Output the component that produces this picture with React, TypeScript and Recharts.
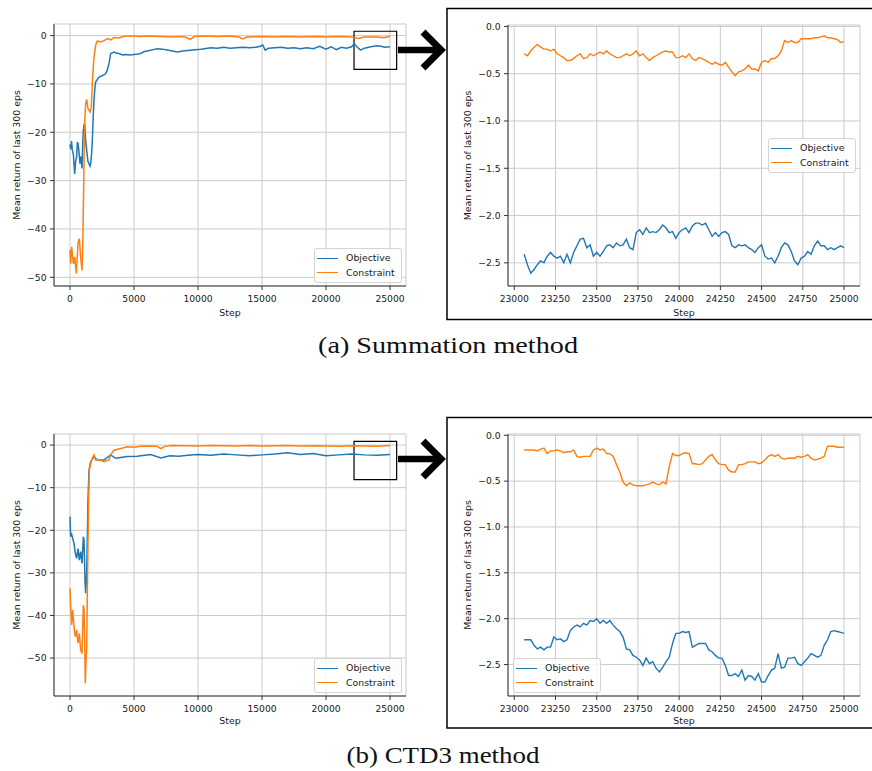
import React from 'react';
import { LineChart, Line, XAxis, YAxis, CartesianGrid, Legend, ReferenceArea } from 'recharts';

const BLUE = '#1f77b4';
const ORANGE = '#ff7f0e';

// full-run x ticks / y ticks
const fullTicksX = [0, 5000, 10000, 15000, 20000, 25000];
const fullTicksY = [-50, -40, -30, -20, -10, 0];
// zoomed panels
const zoomTicksX = [23000, 23250, 23500, 23750, 24000, 24250, 24500, 24750, 25000];
const zoomTicksY = [-2.5, -2.0, -1.5, -1.0, -0.5, 0.0];

const seriesNames = ['Objective', 'Constraint'];

// (a) Summation method, full run
const sumObjSteps = [0, 60, 120, 182, 260, 365, 440, 521, 580, 625, 700, 781, 860, 937, 1000, 1042, 1100, 1146, 1200, 1302, 1400, 1484, 1560, 1615, 1700, 1745, 1810, 1875, 1940, 2005, 2150, 2266, 2500, 2786, 2900, 3047, 3177, 3437, 3600, 3828, 4100, 4349, 4700, 5000, 5300, 5521, 5800, 6041, 6500, 6822, 7200, 7600, 8000, 8400, 8800, 9200, 9600, 10000, 10500, 11000, 11500, 12000, 12500, 13000, 13500, 14000, 14500, 14900, 15050, 15250, 15500, 16000, 16500, 17000, 17500, 18000, 18500, 19000, 19500, 20000, 20400, 20800, 21200, 21600, 22000, 22200, 22450, 22700, 23000, 23500, 24000, 24300, 24600, 25000];
const sumObjValues = [-22.5, -23.5, -21.8, -23.7, -24.5, -28.6, -26, -25, -22, -22.3, -24, -26.5, -25, -27.5, -22, -19.6, -18.5, -18.2, -21, -23.7, -26, -26.5, -27, -26.5, -24, -21.7, -17, -13.4, -11, -9.6, -9, -8.6, -8.3, -7.9, -7.2, -5.8, -3.7, -3.4, -3.6, -3.7, -4.0, -3.9, -4.0, -3.9, -3.8, -3.7, -3.3, -3.2, -2.9, -2.7, -2.8, -3.0, -3.2, -3.4, -3.2, -3.1, -3.0, -2.9, -2.7, -2.5, -2.6, -2.4, -2.6, -2.5, -2.4, -2.5, -2.4, -2.2, -1.9, -3.0, -2.6, -2.5, -2.4, -2.6, -2.5, -2.7, -2.5, -2.7, -2.2, -2.8, -2.3, -2.9, -2.4, -2.6, -2.3, -1.7, -2.4, -3.0, -2.6, -2.3, -2.1, -2.2, -2.4, -2.3];
const sumConSteps = [0, 52, 130, 260, 365, 495, 625, 729, 833, 937, 990, 1042, 1094, 1146, 1224, 1302, 1406, 1562, 1667, 1745, 1875, 2005, 2135, 2396, 2700, 2917, 3200, 3437, 3800, 4200, 4479, 5000, 5500, 6000, 7000, 8000, 8500, 9000, 9400, 9700, 10500, 11500, 12500, 13200, 13500, 13800, 15000, 16000, 17000, 18000, 19000, 20000, 21000, 22000, 22500, 23000, 24000, 24500, 25000];
const sumConValues = [-44.4, -47.2, -43.7, -47.2, -45.8, -49.2, -43, -42, -45.8, -48.6, -44.4, -36, -26.5, -18.2, -14, -13.2, -15.1, -15.8, -14.8, -9.6, -4.4, -2, -1.1, -1.3, -1.0, -0.6, -0.9, -0.4, -0.5, -0.2, -0.1, -0.1, -0.2, -0.1, -0.2, -0.3, -0.2, -0.3, -0.8, -0.2, -0.1, -0.2, -0.1, -0.3, -0.7, -0.3, -0.2, -0.3, -0.2, -0.3, -0.2, -0.3, -0.2, -0.3, -0.6, -0.3, -0.3, -0.45, -0.15];

// (b) CTD3 method, full run
const ctdObjSteps = [0, 50, 104, 208, 313, 417, 521, 625, 729, 833, 937, 1042, 1094, 1172, 1224, 1302, 1406, 1484, 1615, 1875, 2135, 2656, 3177, 3567, 4479, 5260, 6300, 7100, 7800, 8500, 9200, 10000, 11000, 12000, 13000, 14000, 15000, 16000, 17000, 18000, 19000, 20000, 21000, 22000, 23000, 24000, 25000];
const ctdObjValues = [-16.8, -21.5, -20.7, -21.9, -23.1, -25.4, -26.6, -24.3, -27, -25, -27.8, -21.5, -22.3, -31.7, -34.8, -30.1, -12.9, -5.9, -3.9, -2.7, -3.5, -3.5, -2.3, -3.1, -2.7, -2.6, -2.2, -3.0, -2.5, -2.6, -2.4, -2.2, -2.4, -2.1, -2.3, -2.5, -2.3, -2.1, -1.8, -2.2, -2.0, -2.5, -2.3, -2.1, -2.3, -2.4, -2.2];
const ctdConSteps = [0, 52, 130, 208, 313, 417, 521, 625, 729, 833, 937, 1042, 1094, 1146, 1198, 1250, 1302, 1354, 1432, 1510, 1615, 1745, 1875, 2005, 2266, 2656, 3047, 3177, 3437, 3958, 4479, 5000, 5500, 6000, 6800, 7100, 7400, 8000, 9000, 10000, 11000, 12000, 13000, 14000, 15000, 16000, 17000, 18000, 19000, 20000, 21000, 22000, 23000, 24000, 25000];
const ctdConValues = [-33.6, -38, -42.2, -38.7, -42.6, -45, -43.4, -46.5, -44.2, -48.1, -48.9, -37.6, -38.3, -45.8, -55.9, -50.5, -48.1, -34.8, -16.8, -5.9, -4.3, -3.1, -2.3, -3.5, -3.4, -3.9, -3.5, -2.3, -1.2, -0.8, -0.4, -0.5, -0.3, -0.2, -0.3, -0.85, -0.3, -0.1, -0.15, -0.2, -0.1, -0.15, -0.2, -0.1, -0.2, -0.15, -0.1, -0.2, -0.15, -0.2, -0.25, -0.15, -0.2, -0.3, -0.12];

// last ~2000 steps, shared x for both zoomed panels
const zoomSteps = [23060, 23080, 23100, 23120, 23140, 23160, 23180, 23200, 23220, 23240, 23260, 23280, 23300, 23320, 23340, 23360, 23380, 23400, 23420, 23440, 23460, 23480, 23500, 23520, 23540, 23560, 23580, 23600, 23620, 23640, 23660, 23680, 23700, 23720, 23740, 23760, 23780, 23800, 23820, 23840, 23860, 23880, 23900, 23920, 23940, 23960, 23980, 24000, 24020, 24040, 24060, 24080, 24100, 24120, 24140, 24160, 24180, 24200, 24220, 24240, 24260, 24280, 24300, 24320, 24340, 24360, 24380, 24400, 24420, 24440, 24460, 24480, 24500, 24520, 24540, 24560, 24580, 24600, 24620, 24640, 24660, 24680, 24700, 24720, 24740, 24760, 24780, 24800, 24820, 24840, 24860, 24880, 24900, 24920, 24940, 24960, 24980, 25000];
const sumZoomObj = [-2.41, -2.52, -2.61, -2.57, -2.52, -2.48, -2.50, -2.43, -2.39, -2.43, -2.45, -2.43, -2.50, -2.41, -2.50, -2.39, -2.32, -2.25, -2.24, -2.34, -2.31, -2.43, -2.39, -2.43, -2.38, -2.32, -2.31, -2.34, -2.29, -2.32, -2.31, -2.25, -2.34, -2.36, -2.18, -2.15, -2.20, -2.13, -2.18, -2.17, -2.18, -2.15, -2.10, -2.13, -2.18, -2.17, -2.24, -2.18, -2.15, -2.13, -2.18, -2.11, -2.08, -2.08, -2.10, -2.08, -2.15, -2.22, -2.18, -2.22, -2.18, -2.17, -2.20, -2.32, -2.34, -2.31, -2.32, -2.31, -2.34, -2.36, -2.39, -2.34, -2.31, -2.43, -2.46, -2.45, -2.50, -2.43, -2.34, -2.29, -2.31, -2.38, -2.48, -2.52, -2.45, -2.43, -2.38, -2.41, -2.32, -2.27, -2.32, -2.32, -2.36, -2.34, -2.36, -2.34, -2.32, -2.34];
const sumZoomCon = [-0.29, -0.31, -0.26, -0.22, -0.19, -0.22, -0.24, -0.24, -0.26, -0.24, -0.29, -0.31, -0.33, -0.36, -0.36, -0.34, -0.31, -0.29, -0.34, -0.33, -0.29, -0.31, -0.29, -0.27, -0.29, -0.26, -0.29, -0.31, -0.33, -0.33, -0.31, -0.29, -0.31, -0.29, -0.26, -0.31, -0.29, -0.33, -0.36, -0.33, -0.31, -0.29, -0.27, -0.26, -0.27, -0.27, -0.33, -0.33, -0.31, -0.33, -0.29, -0.34, -0.36, -0.33, -0.34, -0.36, -0.38, -0.40, -0.38, -0.40, -0.41, -0.38, -0.43, -0.48, -0.52, -0.48, -0.47, -0.45, -0.41, -0.45, -0.45, -0.47, -0.38, -0.36, -0.38, -0.34, -0.34, -0.31, -0.26, -0.15, -0.17, -0.15, -0.17, -0.17, -0.13, -0.13, -0.13, -0.13, -0.12, -0.12, -0.11, -0.10, -0.12, -0.12, -0.13, -0.14, -0.17, -0.16];
const ctdZoomObj = [-2.23, -2.23, -2.23, -2.29, -2.33, -2.31, -2.34, -2.31, -2.31, -2.20, -2.23, -2.22, -2.25, -2.23, -2.13, -2.09, -2.07, -2.09, -2.05, -2.07, -2.02, -2.03, -2.00, -2.05, -2.02, -2.05, -2.02, -2.07, -2.11, -2.14, -2.20, -2.33, -2.34, -2.40, -2.42, -2.45, -2.51, -2.43, -2.49, -2.47, -2.54, -2.58, -2.53, -2.47, -2.42, -2.27, -2.16, -2.16, -2.14, -2.15, -2.14, -2.31, -2.29, -2.27, -2.27, -2.27, -2.34, -2.36, -2.40, -2.43, -2.43, -2.51, -2.62, -2.62, -2.60, -2.63, -2.56, -2.67, -2.62, -2.63, -2.67, -2.60, -2.69, -2.69, -2.62, -2.56, -2.54, -2.38, -2.54, -2.53, -2.43, -2.43, -2.42, -2.49, -2.51, -2.47, -2.43, -2.38, -2.40, -2.42, -2.40, -2.29, -2.23, -2.14, -2.13, -2.14, -2.15, -2.16];
const ctdZoomCon = [-0.16, -0.16, -0.16, -0.16, -0.17, -0.15, -0.14, -0.20, -0.17, -0.17, -0.16, -0.17, -0.19, -0.18, -0.18, -0.16, -0.23, -0.24, -0.23, -0.23, -0.23, -0.16, -0.14, -0.16, -0.15, -0.20, -0.20, -0.23, -0.32, -0.40, -0.51, -0.55, -0.52, -0.54, -0.55, -0.55, -0.55, -0.54, -0.53, -0.51, -0.53, -0.54, -0.51, -0.53, -0.34, -0.20, -0.22, -0.22, -0.20, -0.19, -0.20, -0.31, -0.31, -0.32, -0.31, -0.27, -0.23, -0.21, -0.27, -0.31, -0.32, -0.32, -0.38, -0.40, -0.40, -0.32, -0.32, -0.31, -0.29, -0.29, -0.29, -0.31, -0.30, -0.27, -0.23, -0.21, -0.23, -0.21, -0.25, -0.26, -0.25, -0.25, -0.25, -0.23, -0.24, -0.23, -0.21, -0.25, -0.27, -0.26, -0.25, -0.23, -0.12, -0.12, -0.12, -0.13, -0.13, -0.13];

type Pt = { x: number; y: number };
const toPoints = (xs: number[], ys: number[]): Pt[] => xs.map((x, i) => ({ x, y: ys[i] }));

const minus = (s: string) => s.replace('-', '\u2212');
const fmtInt = (v: number) => minus(String(v));
const fmtOne = (v: number) => minus(v.toFixed(1));

const TEXT = '#1a1a1a';
const SPINE = '#333';
const tickStyle = { fontSize: 9.2, fill: TEXT, fontFamily: 'DejaVu Sans' };

// matplotlib-like legend box, keeps the plotting order
const MplLegend = ({ payload }: any) => {
  const items = [...(payload || [])].sort((a: any, b: any) => seriesNames.indexOf(a.value) - seriesNames.indexOf(b.value));
  return (
    <div
      style={{
        background: 'rgba(255,255,255,0.8)',
        border: '1px solid #d4d4d4',
        borderRadius: 3,
        padding: '2px 6px 2px 2px',
        fontFamily: 'DejaVu Sans',
        fontSize: 9.4,
        color: TEXT,
        lineHeight: '14.6px',
        whiteSpace: 'nowrap',
      }}
    >
      {items.map((e: any) => (
        <div key={e.value} style={{ display: 'flex', alignItems: 'center' }}>
          <span style={{ display: 'inline-block', width: 21, borderTop: `1.5px solid ${e.color}`, marginRight: 8 }} />
          <span>{e.value}</span>
        </div>
      ))}
    </div>
  );
};

interface PanelProps {
  box: { left: number; top: number; width: number; height: number };
  plot: { x0: number; x1: number; y0: number; y1: number };
  xDomain: [number, number];
  yDomain: [number, number];
  xTicks: number[];
  yTicks: number[];
  yFormat: (v: number) => string;
  objective: Pt[];
  constraint: Pt[];
  zoomBox?: { x1: number; x2: number; y1: number; y2: number };
  legendAt: { left: number; top: number };
  lineWidth: number;
}

const Panel = ({ box, plot, xDomain, yDomain, xTicks, yTicks, yFormat, objective, constraint, zoomBox, legendAt, lineWidth }: PanelProps) => {
  const yWidth = plot.x0 - box.left;
  const xHeight = box.top + box.height - plot.y1;
  const margin = { top: plot.y0 - box.top, right: box.left + box.width - plot.x1, bottom: 0, left: 0 };
  return (
    <div style={{ position: 'absolute', left: box.left, top: box.top }}>
      <LineChart width={box.width} height={box.height} margin={margin}>
        <CartesianGrid stroke="#cbcbcb" strokeWidth={1} />
        <XAxis
          type="number"
          dataKey="x"
          domain={xDomain}
          ticks={xTicks}
          interval={0}
          allowDataOverflow
          height={xHeight}
          stroke={SPINE}
          tickSize={4}
          tickMargin={5}
          tick={tickStyle}
          tickFormatter={fmtInt}
        />
        <XAxis xAxisId="top" orientation="top" type="number" domain={xDomain} height={0} tick={false} tickLine={false} stroke={SPINE} />
        <YAxis
          type="number"
          domain={yDomain}
          ticks={yTicks}
          interval={0}
          allowDataOverflow
          width={yWidth}
          stroke={SPINE}
          tickSize={4}
          tickMargin={3.5}
          tick={tickStyle}
          tickFormatter={yFormat}
        />
        <YAxis yAxisId="right" orientation="right" type="number" domain={yDomain} width={0} tick={false} tickLine={false} stroke={SPINE} />
        <Line data={objective} dataKey="y" name="Objective" stroke={BLUE} strokeWidth={lineWidth} dot={false} activeDot={false} isAnimationActive={false} />
        <Line data={constraint} dataKey="y" name="Constraint" stroke={ORANGE} strokeWidth={lineWidth} dot={false} activeDot={false} isAnimationActive={false} />
        {zoomBox && (
          <ReferenceArea x1={zoomBox.x1} x2={zoomBox.x2} y1={zoomBox.y1} y2={zoomBox.y2} fill="none" stroke="#000" strokeWidth={1.2} ifOverflow="visible" />
        )}
        <Legend
          layout="horizontal"
          verticalAlign="middle"
          align="center"
          wrapperStyle={{ left: legendAt.left, top: legendAt.top, width: 'auto' }}
          content={(p: any) => <MplLegend payload={p.payload} />}
        />
      </LineChart>
    </div>
  );
};

const YTITLE = 'Mean return of last 300 eps';

const AxisTitles = ({ cx, cy, yx, yy }: { cx: number; cy: number; yx: number; yy: number }) => (
  <g fontFamily="DejaVu Sans" fontSize={9.4} fill={TEXT} textAnchor="middle" dominantBaseline="central">
    <text x={cx} y={cy}>Step</text>
    <text x={yx} y={yy} transform={`rotate(-90 ${yx} ${yy})`}>{YTITLE}</text>
  </g>
);

const Arrow = ({ y }: { y: number }) => (
  <g stroke="#000" fill="none">
    <line x1={398} y1={y} x2={437} y2={y} strokeWidth={6.5} />
    <polyline points={`423,${y - 18} 441,${y} 423,${y + 18}`} strokeWidth={7} strokeLinejoin="miter" />
  </g>
);

export default function App() {
  return (
    <div style={{ position: 'absolute', left: 0, top: 0, width: 872, height: 771, overflow: 'hidden', background: '#fff' }}>
      <Panel
        box={{ left: 0, top: 0, width: 420, height: 320 }}
        plot={{ x0: 54, x1: 406, y0: 24, y1: 286 }}
        xDomain={[-1250, 26250]}
        yDomain={[-51.8, 2.4]}
        xTicks={fullTicksX}
        yTicks={fullTicksY}
        yFormat={fmtInt}
        objective={toPoints(sumObjSteps, sumObjValues)}
        constraint={toPoints(sumConSteps, sumConValues)}
        zoomBox={{ x1: 22190, x2: 25520, y1: -7.0, y2: 0.9 }}
        legendAt={{ left: 314, top: 248 }}
        lineWidth={1.5}
      />
      <Panel
        box={{ left: 447, top: 8, width: 425, height: 312 }}
        plot={{ x0: 508, x1: 860, y0: 25, y1: 286 }}
        xDomain={[22962, 25097]}
        yDomain={[-2.745, 0.015]}
        xTicks={zoomTicksX}
        yTicks={zoomTicksY}
        yFormat={fmtOne}
        objective={toPoints(zoomSteps, sumZoomObj)}
        constraint={toPoints(zoomSteps, sumZoomCon)}
        legendAt={{ left: 321, top: 130 }}
        lineWidth={1.4}
      />
      <Panel
        box={{ left: 0, top: 409, width: 420, height: 320 }}
        plot={{ x0: 54, x1: 406, y0: 434, y1: 696 }}
        xDomain={[-1250, 26250]}
        yDomain={[-58.9, 2.6]}
        xTicks={fullTicksX}
        yTicks={fullTicksY}
        yFormat={fmtInt}
        objective={toPoints(ctdObjSteps, ctdObjValues)}
        constraint={toPoints(ctdConSteps, ctdConValues)}
        zoomBox={{ x1: 22190, x2: 25520, y1: -8.1, y2: 0.87 }}
        legendAt={{ left: 314, top: 249 }}
        lineWidth={1.5}
      />
      <Panel
        box={{ left: 447, top: 417, width: 425, height: 311 }}
        plot={{ x0: 508, x1: 860, y0: 434, y1: 696 }}
        xDomain={[22962, 25097]}
        yDomain={[-2.843, 0.014]}
        xTicks={zoomTicksX}
        yTicks={zoomTicksY}
        yFormat={fmtOne}
        objective={toPoints(zoomSteps, ctdZoomObj)}
        constraint={toPoints(zoomSteps, ctdZoomCon)}
        legendAt={{ left: 66, top: 241 }}
        lineWidth={1.4}
      />
      <svg width={872} height={771} style={{ position: 'absolute', left: 0, top: 0, pointerEvents: 'none' }}>
        <AxisTitles cx={230} cy={312} yx={16} yy={155} />
        <AxisTitles cx={684} cy={312} yx={467} yy={155.5} />
        <AxisTitles cx={230} cy={720} yx={16} yy={565} />
        <AxisTitles cx={684} cy={720} yx={467} yy={565} />
        <rect x={447} y={8.5} width={440} height={311} fill="none" stroke="#000" strokeWidth={1.5} />
        <rect x={447} y={417.5} width={440} height={310.5} fill="none" stroke="#000" strokeWidth={1.5} />
        <Arrow y={50} />
        <Arrow y={459} />
        <g fontFamily="Liberation Serif" fontSize={23} fill="#111" textAnchor="middle">
          <text x={448} y={353} textLength={260} lengthAdjust="spacingAndGlyphs">(a) Summation method</text>
          <text x={443} y={763} textLength={193} lengthAdjust="spacingAndGlyphs">(b) CTD3 method</text>
        </g>
      </svg>
    </div>
  );
}
